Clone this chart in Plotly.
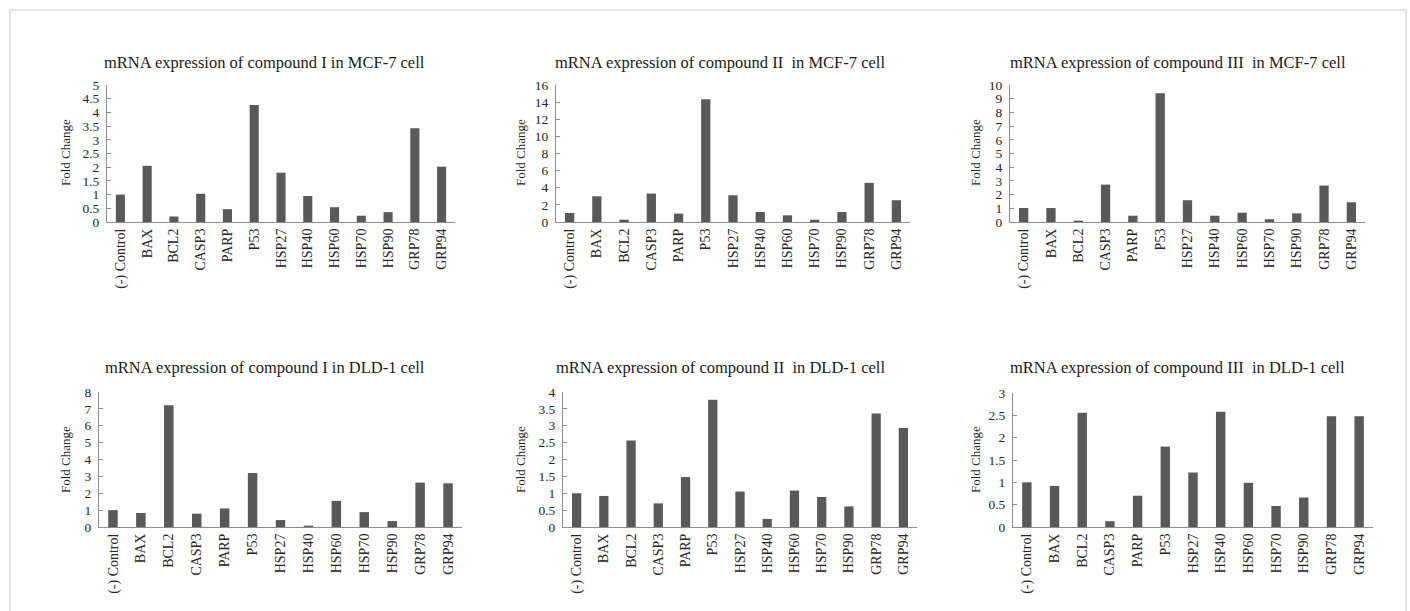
import plotly.graph_objects as go

W, H = 1410, 611

categories = ["(-) Control", "BAX", "BCL2", "CASP3", "PARP", "P53", "HSP27",
              "HSP40", "HSP60", "HSP70", "HSP90", "GRP78", "GRP94"]

mcf7_c1 = [1.0, 2.05, 0.2, 1.03, 0.47, 4.27, 1.8, 0.95, 0.54, 0.23, 0.36, 3.42, 2.02]
mcf7_c2 = [1.05, 3.0, 0.27, 3.32, 0.98, 14.34, 3.12, 1.17, 0.78, 0.27, 1.17, 4.57, 2.54]
mcf7_c3 = [1.02, 1.02, 0.1, 2.73, 0.46, 9.39, 1.59, 0.46, 0.68, 0.2, 0.63, 2.66, 1.44]
dld1_c1 = [1.0, 0.83, 7.21, 0.79, 1.1, 3.2, 0.41, 0.08, 1.55, 0.88, 0.35, 2.63, 2.59]
dld1_c2 = [1.0, 0.92, 2.56, 0.7, 1.48, 3.77, 1.05, 0.24, 1.08, 0.89, 0.61, 3.36, 2.93]
dld1_c3 = [1.0, 0.92, 2.56, 0.13, 0.7, 1.8, 1.22, 2.58, 0.99, 0.47, 0.66, 2.48, 2.48]

titles = [
    "mRNA expression of compound I in MCF-7 cell",
    "mRNA expression of compound II  in MCF-7 cell",
    "mRNA expression of compound III  in MCF-7 cell",
    "mRNA expression of compound I in DLD-1 cell",
    "mRNA expression of compound II  in DLD-1 cell",
    "mRNA expression of compound III  in DLD-1 cell",
]
y_max = [5, 16, 10, 8, 4, 3]
y_dtick = [0.5, 2, 1, 1, 0.5, 0.5]
y_label = "Fold Change"

series = [mcf7_c1, mcf7_c2, mcf7_c3, dld1_c1, dld1_c2, dld1_c3]

# pixel boxes (x0, x1, ytop, ybottom)
boxes = [
    (107, 455, 85, 222),
    (556, 910, 85, 222),
    (1010, 1365, 85, 222),
    (99, 462, 392, 527),
    (563, 917, 392, 527),
    (1013, 1373, 393, 527),
]
title_pos = [(102, 62), (553, 62), (1008, 62), (103, 367), (554, 367), (1008, 367)]
ytitle_pos = [(65, 153), (520, 153), (975, 153), (65, 460), (520, 460), (975, 460)]

FONT = "Liberation Serif, Times New Roman, serif"
BAR = "#595959"
AXIS = "#8c8c8c"
TXT = "#262626"

fig = go.Figure()
annotations = []
layout = {}
for i, vals in enumerate(series):
    n = i + 1
    xa = "xaxis" if n == 1 else f"xaxis{n}"
    ya = "yaxis" if n == 1 else f"yaxis{n}"
    xr = "x" if n == 1 else f"x{n}"
    yr = "y" if n == 1 else f"y{n}"
    x0, x1, yt, yb = boxes[i]
    fig.add_trace(go.Bar(x=categories, y=vals, xaxis=xr, yaxis=yr,
                         marker=dict(color=BAR, line=dict(width=0)),
                         width=0.34, showlegend=False, hoverinfo="skip"))
    layout[xa] = dict(domain=[x0 / W, x1 / W], anchor=yr, automargin=False,
                      showline=True, linecolor=AXIS, linewidth=1,
                      showgrid=False, zeroline=False, ticks="",
                      tickangle=-90, tickfont=dict(family=FONT, size=14, color=TXT),
                      range=[-0.5, 12.5], fixedrange=True)
    layout[ya] = dict(domain=[1 - yb / H, 1 - yt / H], anchor=xr, automargin=False,
                      range=[0, y_max[i]], dtick=y_dtick[i], tick0=0,
                      showline=True, linecolor=AXIS, linewidth=1,
                      showgrid=False, zeroline=False, ticks="inside",
                      ticklen=4, tickcolor=AXIS, ticklabelstandoff=4,
                      tickfont=dict(family=FONT, size=13.5, color=TXT),
                      fixedrange=True)
    tx, ty = title_pos[i]
    annotations.append(dict(text=titles[i], x=tx / W, y=1 - ty / H, xref="paper",
                            yref="paper", xanchor="left", yanchor="middle",
                            showarrow=False,
                            font=dict(family=FONT, size=16.5, color="#1a1a1a")))
    ax_, ay_ = ytitle_pos[i]
    annotations.append(dict(text=y_label, x=ax_ / W, y=1 - ay_ / H, xref="paper",
                            yref="paper", xanchor="center", yanchor="middle",
                            textangle=-90, showarrow=False,
                            font=dict(family=FONT, size=13, color=TXT)))

fig.update_layout(**layout)
fig.update_layout(
    width=W, height=H,
    margin=dict(l=0, r=0, t=0, b=0, pad=0, autoexpand=False),
    paper_bgcolor="white", plot_bgcolor="white",
    annotations=annotations,
    hovermode=False,
    shapes=[dict(type="rect", xref="paper", yref="paper",
                 x0=10 / W, x1=1406 / W, y0=-0.05, y1=1 - 10 / H,
                 line=dict(color="#e3e3e3", width=2), fillcolor="rgba(0,0,0,0)",
                 layer="below")],
)

fig.write_html("out.html",
               config={"displayModeBar": False, "staticPlot": True},
               post_script="document.body.style.margin='0';"
                           "document.body.style.overflow='hidden';")
